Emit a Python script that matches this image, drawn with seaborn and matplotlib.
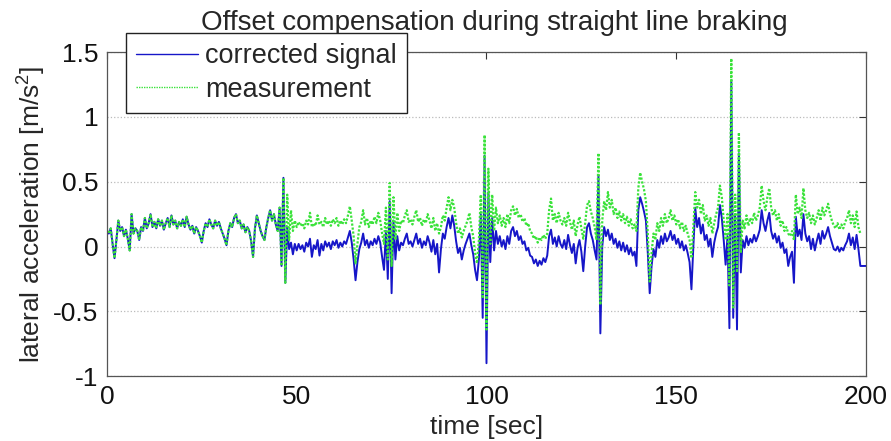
import numpy as np
import pandas as pd
import matplotlib
matplotlib.use("Agg")
import matplotlib.pyplot as plt
import seaborn as sns

nan = np.nan

# lateral acceleration readings, one every 0.5 s from 0 to 200 s
measurement = [
    0.12, 0.10, 0.14, 0.02, -0.09, 0.05, 0.20, 0.12, 0.15, 0.08, 0.13, 0.06, -0.03, 0.25, 0.10, 0.14, 0.12, 0.05, 0.15, 0.12,
    0.22, 0.14, 0.18, 0.25, 0.15, 0.19, 0.14, 0.21, 0.16, 0.20, 0.13, 0.18, 0.22, 0.15, 0.24, 0.17, 0.20, 0.14, 0.19, 0.16,
    0.21, 0.15, 0.23, 0.17, 0.13, 0.16, 0.10, 0.15, 0.12, 0.08, 0.03, 0.12, 0.18, 0.15, 0.21, 0.17, 0.14, 0.20, 0.16, 0.19,
    0.14, 0.10, 0.06, 0.01, 0.12, 0.18, 0.15, 0.22, 0.25, 0.18, 0.20, 0.14, 0.17, 0.11, 0.15, 0.12, 0.04, -0.08, 0.14, 0.24,
    0.18, 0.12, 0.08, 0.05, 0.15, 0.22, 0.28, 0.20, 0.25, 0.17, 0.12, 0.30, -0.15, 0.53, -0.28, 0.40, 0.05, 0.28, 0.12, 0.20,
    0.15, 0.19, 0.16, 0.18, 0.14, 0.20, 0.17, 0.26, 0.15, 0.18, 0.16, 0.24, 0.17, 0.19, 0.15, 0.22, 0.17, 0.20, 0.16, 0.21,
    0.18, 0.22, 0.16, 0.20, 0.17, 0.21, 0.18, 0.24, 0.31, 0.20, 0.08, -0.13, 0.02, 0.15, 0.19, 0.28, 0.17, 0.22, 0.15, 0.20,
    0.17, 0.23, 0.18, 0.26, 0.20, 0.10, 0.02, 0.30, -0.10, 0.49, -0.15, 0.38, 0.05, 0.26, 0.12, 0.20, 0.18, 0.24, 0.28, 0.19,
    0.21, 0.17, 0.23, 0.28, 0.19, 0.22, 0.16, 0.21, 0.18, 0.25, 0.20, 0.14, 0.22, 0.12, 0.18, 0.10, 0.15, 0.24, 0.20, 0.30,
    0.38, 0.28, 0.36, 0.30, 0.18, 0.10, 0.14, 0.07, 0.12, 0.16, 0.20, 0.26, 0.15, 0.08, -0.05, -0.13, 0.05, 0.40, -0.40, 0.86,
    -0.64, 0.60, 0.02, 0.40, 0.12, 0.30, 0.18, 0.24, 0.16, 0.22, 0.15, 0.25, 0.18, 0.28, 0.31, 0.24, 0.29, 0.22, 0.25, 0.19,
    0.22, 0.16, 0.18, 0.12, 0.10, 0.06, 0.08, 0.03, 0.07, 0.05, 0.09, 0.06, 0.10, 0.28, 0.37, 0.20, 0.25, 0.18, 0.26, 0.20,
    0.17, 0.22, 0.16, 0.26, 0.19, 0.13, 0.20, 0.08, 0.17, 0.23, 0.14, 0.06, 0.18, 0.32, 0.35, 0.27, 0.22, 0.15, 0.05, 0.72,
    -0.45, 0.20, 0.35, 0.28, 0.42, 0.30, 0.36, 0.25, 0.30, 0.22, 0.27, 0.20, 0.25, 0.18, 0.23, 0.16, 0.21, 0.14, 0.17, 0.12,
    0.45, 0.57, 0.50, 0.44, 0.35, 0.10, -0.27, -0.05, 0.10, 0.05, 0.18, 0.12, 0.22, 0.16, 0.25, 0.18, 0.22, 0.28, 0.20, 0.24,
    0.17, 0.21, 0.14, 0.19, 0.12, 0.16, 0.10, 0.05, -0.09, 0.15, 0.42, 0.30, 0.36, 0.25, 0.32, 0.20, 0.24, 0.16, 0.22, 0.10,
    0.18, 0.25, 0.30, 0.47, 0.38, 0.20, 0.05, 0.25, -0.30, 1.45, -0.47, 0.40, -0.20, 0.88, -0.05, 0.20, 0.14, 0.24, 0.16, 0.22,
    0.18, 0.26, 0.20, 0.24, 0.30, 0.47, 0.35, 0.28, 0.38, 0.45, 0.30, 0.24, 0.28, 0.20, 0.25, 0.16, 0.20, 0.12, 0.15, 0.10,
    0.08, 0.12, 0.05, 0.40, 0.25, 0.30, 0.22, 0.45, 0.28, 0.22, 0.26, 0.18, 0.24, 0.17, 0.22, 0.28, 0.20, 0.30, 0.24, 0.28,
    0.33, 0.25, 0.20, 0.16, 0.14, 0.18, 0.13, 0.17, 0.14, 0.19, 0.22, 0.28, 0.18, 0.24, 0.15, 0.27, 0.15, 0.10, nan, nan,
    nan,
]

corrected = [
    0.12, 0.10, 0.14, 0.02, -0.09, 0.05, 0.20, 0.12, 0.15, 0.08, 0.13, 0.06, -0.03, 0.25, 0.10, 0.14, 0.12, 0.05, 0.15, 0.12,
    0.22, 0.14, 0.18, 0.25, 0.15, 0.19, 0.14, 0.21, 0.16, 0.20, 0.13, 0.18, 0.22, 0.15, 0.24, 0.17, 0.20, 0.14, 0.19, 0.16,
    0.21, 0.15, 0.23, 0.17, 0.13, 0.16, 0.10, 0.15, 0.12, 0.08, 0.03, 0.12, 0.18, 0.15, 0.21, 0.17, 0.14, 0.20, 0.16, 0.19,
    0.14, 0.10, 0.06, 0.01, 0.12, 0.18, 0.15, 0.22, 0.25, 0.18, 0.20, 0.14, 0.17, 0.11, 0.15, 0.12, 0.04, -0.08, 0.14, 0.24,
    0.18, 0.12, 0.08, 0.05, 0.15, 0.22, 0.28, 0.20, 0.25, 0.17, 0.12, 0.30, -0.15, 0.53, -0.28, 0.15, -0.02, 0.03, -0.06, 0.02,
    -0.03, 0.02, -0.02, 0.01, -0.04, 0.03, 0.00, 0.06, -0.08, 0.01, -0.02, 0.05, -0.07, 0.02, -0.03, 0.04, 0.00, 0.03, -0.02, 0.04,
    0.01, 0.05, -0.01, 0.03, 0.00, 0.04, 0.02, 0.07, 0.12, 0.03, -0.10, -0.26, -0.12, -0.02, 0.03, 0.10, 0.01, 0.05, -0.01, 0.04,
    0.01, 0.06, 0.02, 0.08, 0.03, -0.08, -0.18, 0.12, -0.25, 0.35, -0.36, 0.20, -0.10, 0.08, -0.03, 0.03, 0.01, 0.06, 0.10, 0.02,
    0.04, 0.00, 0.05, 0.10, 0.02, 0.06, -0.01, 0.04, 0.01, 0.08, 0.03, -0.04, 0.05, -0.06, 0.02, -0.20, -0.02, 0.10, 0.06, 0.15,
    0.22, 0.14, 0.24, 0.16, 0.04, -0.05, -0.01, -0.10, -0.03, 0.02, 0.06, 0.10, 0.01, -0.06, -0.18, -0.26, -0.10, 0.25, -0.55, 0.70,
    -0.90, 0.42, -0.12, 0.22, -0.03, 0.12, 0.02, 0.08, 0.00, 0.05, -0.02, 0.08, 0.02, 0.12, 0.15, 0.08, 0.12, 0.05, 0.08, 0.02,
    0.04, -0.03, -0.01, -0.07, -0.08, -0.13, -0.10, -0.15, -0.11, -0.14, -0.09, -0.12, -0.07, 0.08, 0.13, 0.02, 0.07, 0.00, 0.08, 0.02,
    -0.01, 0.05, -0.02, 0.09, 0.01, -0.05, 0.02, -0.13, -0.01, 0.05, -0.04, -0.19, 0.00, 0.15, 0.18, 0.10, 0.05, -0.03, -0.10, 0.55,
    -0.67, 0.00, 0.15, 0.08, 0.13, 0.05, 0.10, 0.02, 0.06, -0.01, 0.04, -0.03, 0.03, -0.04, 0.01, -0.06, -0.01, -0.07, -0.04, -0.15,
    0.28, 0.38, 0.33, 0.27, 0.20, -0.05, -0.36, -0.15, -0.02, -0.08, 0.05, -0.01, 0.08, 0.02, 0.10, 0.04, 0.07, 0.12, 0.05, 0.09,
    0.02, 0.06, -0.01, 0.04, -0.03, 0.01, -0.05, -0.12, -0.33, 0.00, 0.30, 0.15, 0.22, 0.10, 0.17, 0.05, 0.09, 0.00, 0.06, -0.08,
    0.03, 0.10, 0.15, 0.32, 0.22, 0.05, -0.14, 0.08, -0.63, 1.28, -0.55, 0.25, -0.64, 0.72, -0.20, 0.05, -0.01, 0.08, 0.01, 0.06,
    0.03, 0.09, 0.04, 0.08, 0.13, 0.28, 0.18, 0.12, 0.20, 0.26, 0.12, 0.06, 0.10, 0.03, 0.08, -0.01, 0.03, -0.05, -0.02, -0.15,
    -0.08, -0.04, -0.28, 0.23, 0.08, 0.13, 0.05, 0.25, 0.10, 0.04, 0.08, -0.02, 0.06, -0.03, 0.04, 0.10, 0.02, 0.12, 0.06, 0.10,
    0.15, 0.08, 0.03, -0.02, -0.03, 0.00, -0.04, -0.01, -0.03, 0.01, 0.04, 0.10, 0.01, 0.07, -0.02, 0.09, -0.02, -0.15, -0.15, -0.15,
    -0.15,
]

time = np.linspace(0, 200, len(measurement))

x_ticks = [0, 50, 100, 150, 200]
y_ticks = [-1, -0.5, 0, 0.5, 1, 1.5]
y_tick_labels = ["-1", "-0.5", "0", "0.5", "1", "1.5"]

df = pd.DataFrame({"time": time, "measurement": measurement, "corrected": corrected})

sns.set_style("white")
plt.rcParams["font.family"] = ["Liberation Sans", "DejaVu Sans"]
plt.rcParams["mathtext.default"] = "regular"

fig = plt.figure(figsize=(8.91, 4.41), dpi=100)
ax = fig.add_axes([0.120, 0.147, 0.852, 0.735])

sns.lineplot(data=df, x="time", y="corrected", ax=ax, color="#1616c8",
             linewidth=1.4, estimator=None, label="corrected signal")
sns.lineplot(data=df, x="time", y="measurement", ax=ax, color="#3ae23a",
             linewidth=1.6, linestyle=(0, (1, 0.8)), estimator=None, label="measurement")

ax.set_xlim(0, 200)
ax.set_ylim(-1, 1.5)
ax.set_xticks(x_ticks)
ax.set_yticks(y_ticks)
ax.set_yticklabels(y_tick_labels)
ax.tick_params(direction="in", length=5, width=0.8, top=True, right=True,
               labelsize=19, colors="#333333", labelcolor="#111111", pad=6)
ax.yaxis.grid(True, linestyle=":", color="#bbbbbb", linewidth=0.9)
ax.xaxis.grid(False)
for s in ax.spines.values():
    s.set_color("#555555")
    s.set_linewidth(0.9)

ax.set_xlabel("time [sec]", fontsize=19, labelpad=5)
ax.set_ylabel("lateral acceleration [m/s$^2$]", fontsize=19, labelpad=4)
ax.set_title("Offset compensation during straight line braking", fontsize=20, pad=16, x=0.51)

leg = ax.legend(loc="upper left", bbox_to_anchor=(0.025, 1.059), borderaxespad=0,
                fontsize=19.5, frameon=True, fancybox=False, framealpha=1,
                handlelength=2.3, handletextpad=0.25, labelspacing=0.28,
                borderpad=0.38)
leg.get_frame().set_edgecolor("#222222")
leg.get_frame().set_linewidth(1.0)
for line in leg.get_lines():
    line.set_linewidth(1.0)

plt.savefig("out.png", dpi=100)
